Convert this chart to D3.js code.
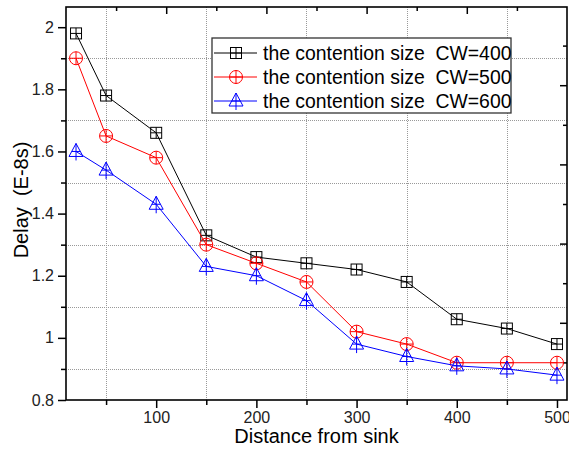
<!DOCTYPE html>
<html>
<head>
<meta charset="utf-8">
<script src="https://cdn.jsdelivr.net/npm/d3@7"></script>
<style>
  body { margin: 0; background: #fff; }
  text { font-family: "Liberation Sans", Arial, sans-serif; white-space: pre; }
</style>
</head>
<body>
<svg id="chart" width="569" height="451"></svg>
<script>
// distance from sink
const distances = [20, 50, 100, 150, 200, 250, 300, 350, 400, 450, 500];
// delay (E-8s) for each contention window
const cw400 = [1.98, 1.78, 1.66, 1.33, 1.26, 1.24, 1.22, 1.18, 1.06, 1.03, 0.98];
const cw500 = [1.90, 1.65, 1.58, 1.30, 1.24, 1.18, 1.02, 0.98, 0.92, 0.92, 0.92];
const cw600 = [1.60, 1.54, 1.43, 1.23, 1.20, 1.12, 0.98, 0.94, 0.91, 0.90, 0.88];
const seriesNames = ['the contention size  CW=400', 'the contention size  CW=500', 'the contention size  CW=600'];
const xTicks = [100, 200, 300, 400, 500];
const xMinor = [50, 150, 250, 350, 450];
const yTicks = [0.8, 1.0, 1.2, 1.4, 1.6, 1.8, 2.0];
const yMinor = [0.9, 1.1, 1.3, 1.5, 1.7, 1.9];

const series = [
  { name: seriesNames[0], values: cw400, color: '#000000', marker: 'square' },
  { name: seriesNames[1], values: cw500, color: '#ff0000', marker: 'circle' },
  { name: seriesNames[2], values: cw600, color: '#0000ff', marker: 'triangle' }
];

const plot = { left: 66, right: 567, top: 7, bottom: 400 };
const svg = d3.select('#chart');

const x = d3.scaleLinear().domain([10, 510]).range([plot.left, plot.right]);
const y = d3.scaleLinear().domain([0.8, 2.065]).range([plot.bottom, plot.top]);
// the top and right axes are not linked to the data axes
const xTop = d3.scaleLinear().domain([0, 500]).range([plot.left, plot.right]);
const yRight = d3.scaleLinear().domain([0.8, 1.8]).range([402, 6]);

// grid on minor ticks
const grid = svg.append('g')
    .attr('stroke', '#999')
    .attr('stroke-width', 1)
    .attr('stroke-dasharray', '1,1');
grid.selectAll('.gx').data(xMinor).join('line')
    .attr('x1', d => Math.round(x(d)) + 0.5).attr('x2', d => Math.round(x(d)) + 0.5)
    .attr('y1', plot.top).attr('y2', plot.bottom);
grid.selectAll('.gy').data(yMinor).join('line')
    .attr('x1', plot.left).attr('x2', plot.right)
    .attr('y1', d => Math.round(y(d)) + 0.5).attr('y2', d => Math.round(y(d)) + 0.5);

// axes
svg.append('g').attr('transform', `translate(0,${plot.bottom})`)
    .call(d3.axisBottom(x).tickValues(xTicks).tickSize(8).tickPadding(4).tickFormat(d3.format('d')));
svg.append('g').attr('transform', `translate(0,${plot.bottom})`)
    .call(d3.axisBottom(x).tickValues(xMinor).tickSize(5).tickFormat(''));
svg.append('g').attr('transform', `translate(${plot.left},0)`)
    .call(d3.axisLeft(y).tickValues(yTicks).tickSize(8).tickPadding(4).tickFormat(d => String(+d.toFixed(1))));
svg.append('g').attr('transform', `translate(${plot.left},0)`)
    .call(d3.axisLeft(y).tickValues(yMinor).tickSize(5).tickFormat(''));
svg.append('g').attr('transform', `translate(0,${plot.top})`)
    .call(d3.axisBottom(xTop).tickValues([100, 200, 300, 400]).tickSize(7).tickFormat(''));
svg.append('g').attr('transform', `translate(0,${plot.top})`)
    .call(d3.axisBottom(xTop).tickValues([50, 150, 250, 350, 450]).tickSize(4).tickFormat(''));
svg.append('g').attr('transform', `translate(${plot.right},0)`)
    .call(d3.axisLeft(yRight).tickValues([1.0, 1.2, 1.4, 1.6]).tickSize(7).tickFormat(''));
svg.append('g').attr('transform', `translate(${plot.right},0)`)
    .call(d3.axisLeft(yRight).tickValues([0.9, 1.1, 1.3, 1.5, 1.7]).tickSize(4).tickFormat(''));

svg.selectAll('.domain').remove();
svg.selectAll('.tick line').attr('stroke', '#000').attr('stroke-width', 1.5);
svg.selectAll('.tick text').attr('fill', '#222').style('font-size', '16px')
    .style('font-family', '"Liberation Sans", Arial, sans-serif');

// frame
svg.append('rect')
    .attr('x', plot.left).attr('y', plot.top)
    .attr('width', plot.right - plot.left).attr('height', plot.bottom - plot.top)
    .attr('fill', 'none').attr('stroke', '#000').attr('stroke-width', 1.6);

// markers
function drawMarker(g, type, color) {
  g.attr('stroke', color).attr('fill', 'none').attr('stroke-width', 1);
  if (type === 'square') {
    g.append('rect').attr('x', -5.5).attr('y', -5.5).attr('width', 11).attr('height', 11);
    g.append('path').attr('d', 'M-5.5,0H5.5M0,-5.5V5.5');
  } else if (type === 'circle') {
    g.append('circle').attr('r', 6.5);
    g.append('path').attr('d', 'M-6.5,0H6.5M0,-6.5V6.5');
  } else {
    g.append('path').attr('d', 'M0,-8L7,5H-7Z');
    g.append('path').attr('d', 'M0,-8V9M-4.2,0H4.2');
  }
}

const line = d3.line().x((d, i) => x(distances[i])).y(d => y(d));

series.forEach(s => {
  svg.append('path')
      .datum(s.values)
      .attr('d', line)
      .attr('fill', 'none')
      .attr('stroke', s.color)
      .attr('stroke-width', 1);
  s.values.forEach((v, i) => {
    const g = svg.append('g').attr('transform', `translate(${x(distances[i])},${y(v)})`);
    drawMarker(g, s.marker, s.color);
  });
});

// legend
const legend = svg.append('g');
legend.append('rect')
    .attr('x', 212).attr('y', 38).attr('width', 299).attr('height', 75)
    .attr('fill', '#fff').attr('stroke', '#333').attr('stroke-width', 1.3);
series.forEach((s, i) => {
  const cy = 53 + i * 24;
  legend.append('line')
      .attr('x1', 214).attr('x2', 257).attr('y1', cy).attr('y2', cy)
      .attr('stroke', s.color).attr('stroke-width', 1);
  drawMarker(legend.append('g').attr('transform', `translate(236,${cy})`), s.marker, s.color);
  legend.append('text')
      .attr('x', 263).attr('y', cy + 7)
      .attr('xml:space', 'preserve')
      .style('font-size', '19.4px').attr('fill', '#000')
      .text(s.name);
});

// axis titles
svg.append('text')
    .attr('x', (plot.left + plot.right) / 2).attr('y', 443)
    .attr('text-anchor', 'middle')
    .style('font-size', '20px')
    .text('Distance from sink');
svg.append('text')
    .attr('transform', `translate(28,200) rotate(-90)`)
    .attr('text-anchor', 'middle')
    .attr('xml:space', 'preserve')
    .style('font-size', '20px')
    .text('Delay  (E-8s)');
</script>
</body>
</html>
